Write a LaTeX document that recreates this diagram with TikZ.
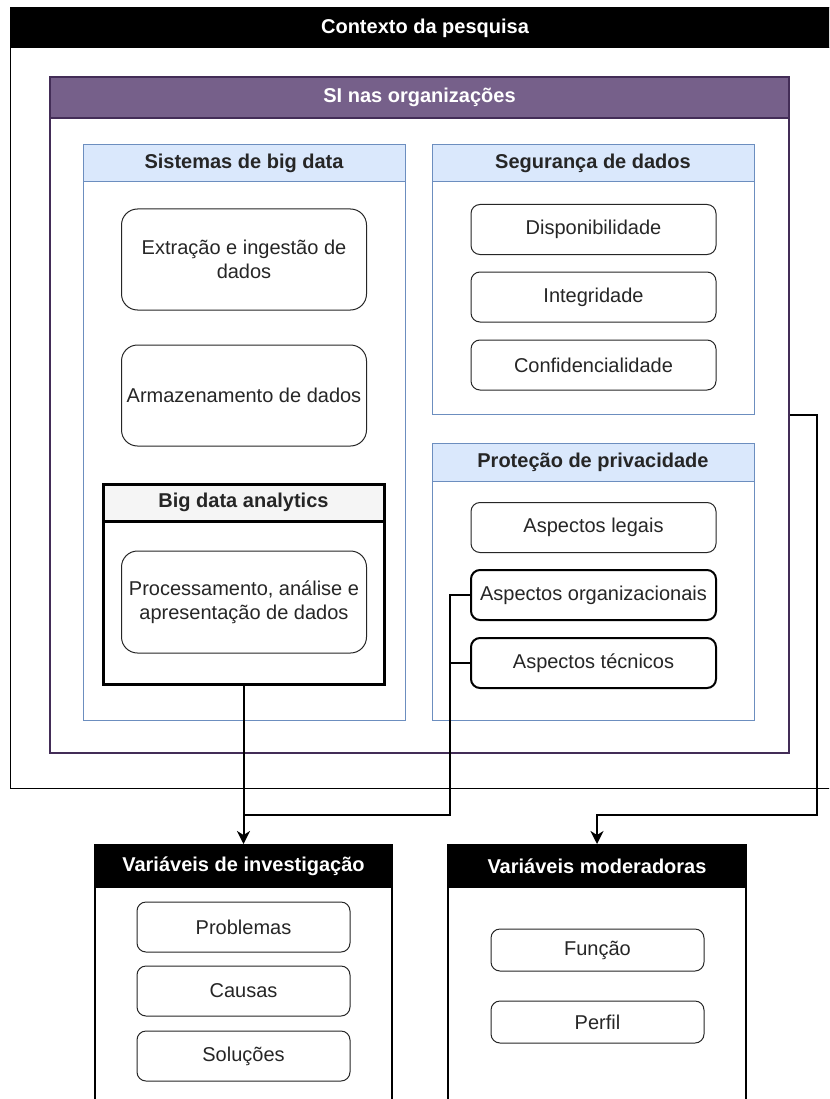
\documentclass[tikz,border=0pt]{standalone}
\usepackage{fontspec}
\setmainfont{Liberation Sans}
\usetikzlibrary{arrows.meta, positioning, calc}
\definecolor{sipurple}{HTML}{76608A}
\definecolor{sipurpledark}{HTML}{432D57}
\definecolor{hdrblue}{HTML}{DAE8FC}
\definecolor{lineblue}{HTML}{6C8EBF}
\definecolor{hdrgray}{HTML}{F5F5F5}
\definecolor{txtgray}{HTML}{262626}

\begin{document}
\begin{tikzpicture}[
  x=1pt, y=-1pt,
  every node/.style={font=\fontsize{20}{24}\selectfont, text=txtgray},
  box/.style={rectangle, inner sep=0pt, align=center},
  boldtxt/.style={font=\fontsize{20}{24}\selectfont\bfseries},
  panel/.style={box, draw=lineblue, line width=1pt, fill=white, minimum width=322pt},
  panelhdr/.style={box, boldtxt, draw=lineblue, line width=1pt, fill=hdrblue, minimum width=322pt, anchor=north},
  darkhdr/.style={box, boldtxt, draw=black, fill=black, text=white, anchor=north},
  item/.style={box, rounded corners=9pt, draw=txtgray, line width=1pt, fill=white, minimum width=245pt, minimum height=50pt},
  itembig/.style={item, rounded corners=16pt, minimum height=101pt},
  link/.style={draw=black, line width=2pt},
  tip/.style={-{Stealth[length=13pt, width=13pt, inset=4pt]}},
]
\useasboundingbox (0,0) rectangle (829,1099);
\clip (0,0) rectangle (829,1099);

\node[box, draw=black, line width=1pt, minimum width=830pt, minimum height=780pt] (ctx) at (425,398) {};
\node[darkhdr, line width=1pt, minimum width=830pt, minimum height=40pt] (ctxhdr) at (ctx.north) {Contexto da pesquisa};

\node[box, draw=sipurpledark, line width=2pt, minimum width=739pt, minimum height=676pt] (si) at (419.5,415) {};
\node[box, boldtxt, draw=sipurpledark, line width=2pt, fill=sipurple, text=white, minimum width=739pt, minimum height=41pt, anchor=north] (sihdr) at (si.north) {SI nas organizações};

\node[panel, minimum height=575pt] (sbd) at (244,432.5) {};
\node[panelhdr, minimum height=37pt] (sbdhdr) at (sbd.north) {Sistemas de big data};
\node[itembig] (ext) at (244,259.5) {Extração e ingestão de\\dados};
\node[itembig] (arm) at (244,395.5) {Armazenamento de dados};

\node[box, draw=black, line width=3pt, minimum width=281pt, minimum height=200pt] (bda) at (243.5,584) {};
\node[box, boldtxt, draw=black, line width=3pt, fill=hdrgray, minimum width=281pt, minimum height=37pt, anchor=north] (bdahdr) at (bda.north) {Big data analytics};
\node[itembig, minimum height=102pt] (proc) at (244,602) {Processamento, análise e\\apresentação de dados};

\node[panel, minimum height=269pt] (seg) at (593,279.5) {};
\node[panelhdr, minimum height=37pt] (seghdr) at (seg.north) {Segurança de dados};
\node[item] (disp) at (593.5,229.5) {Disponibilidade};
\node[item] (integ) at (593.5,297) {Integridade};
\node[item] (conf) at (593.5,365) {Confidencialidade};

\node[panel, minimum height=277pt] (priv) at (593,581.5) {};
\node[panelhdr, minimum height=38pt] (privhdr) at (priv.north) {Proteção de privacidade};
\node[item] (leg) at (593.5,527.5) {Aspectos legais};
\node[item, line width=2pt, draw=black] (org) at (593.5,595) {Aspectos organizacionais};
\node[item, line width=2pt, draw=black] (tec) at (593.5,663) {Aspectos técnicos};

\node[box, draw=black, line width=2pt, minimum width=297pt, minimum height=300pt] (vinv) at (243.5,995) {};
\node[darkhdr, line width=2pt, minimum width=297pt, minimum height=42pt] (vinvhdr) at (vinv.north) {Variáveis de investigação};
\node[item, minimum width=213pt] (prob) at (243.5,927) {Problemas};
\node[item, minimum width=213pt] (caus) at (243.5,991) {Causas};
\node[item, minimum width=213pt] (sol) at (243.5,1056) {Soluções};

\node[box, draw=black, line width=2pt, minimum width=298pt, minimum height=300pt] (vmod) at (597,995) {};
\node[darkhdr, line width=2pt, minimum width=298pt, minimum height=42pt] (vmodhdr) at (vmod.north) {Variáveis moderadoras};
\node[item, minimum width=213pt, minimum height=42pt] (func) at (597.5,950) {Função};
\node[item, minimum width=213pt, minimum height=42pt] (perf) at (597.5,1022) {Perfil};

\coordinate (jn) at (450,815);
\coordinate (rt) at (817,815);
\draw[link, tip] (bda.south) -- (vinvhdr.north);
\draw[link] (org.west) -| (jn) -- (jn -| bda.south);
\draw[link] (tec.west) -| (jn);
\draw[link, tip] (si.east |- seg.south) -| (rt) -| (vmodhdr.north);

\end{tikzpicture}
\end{document}
